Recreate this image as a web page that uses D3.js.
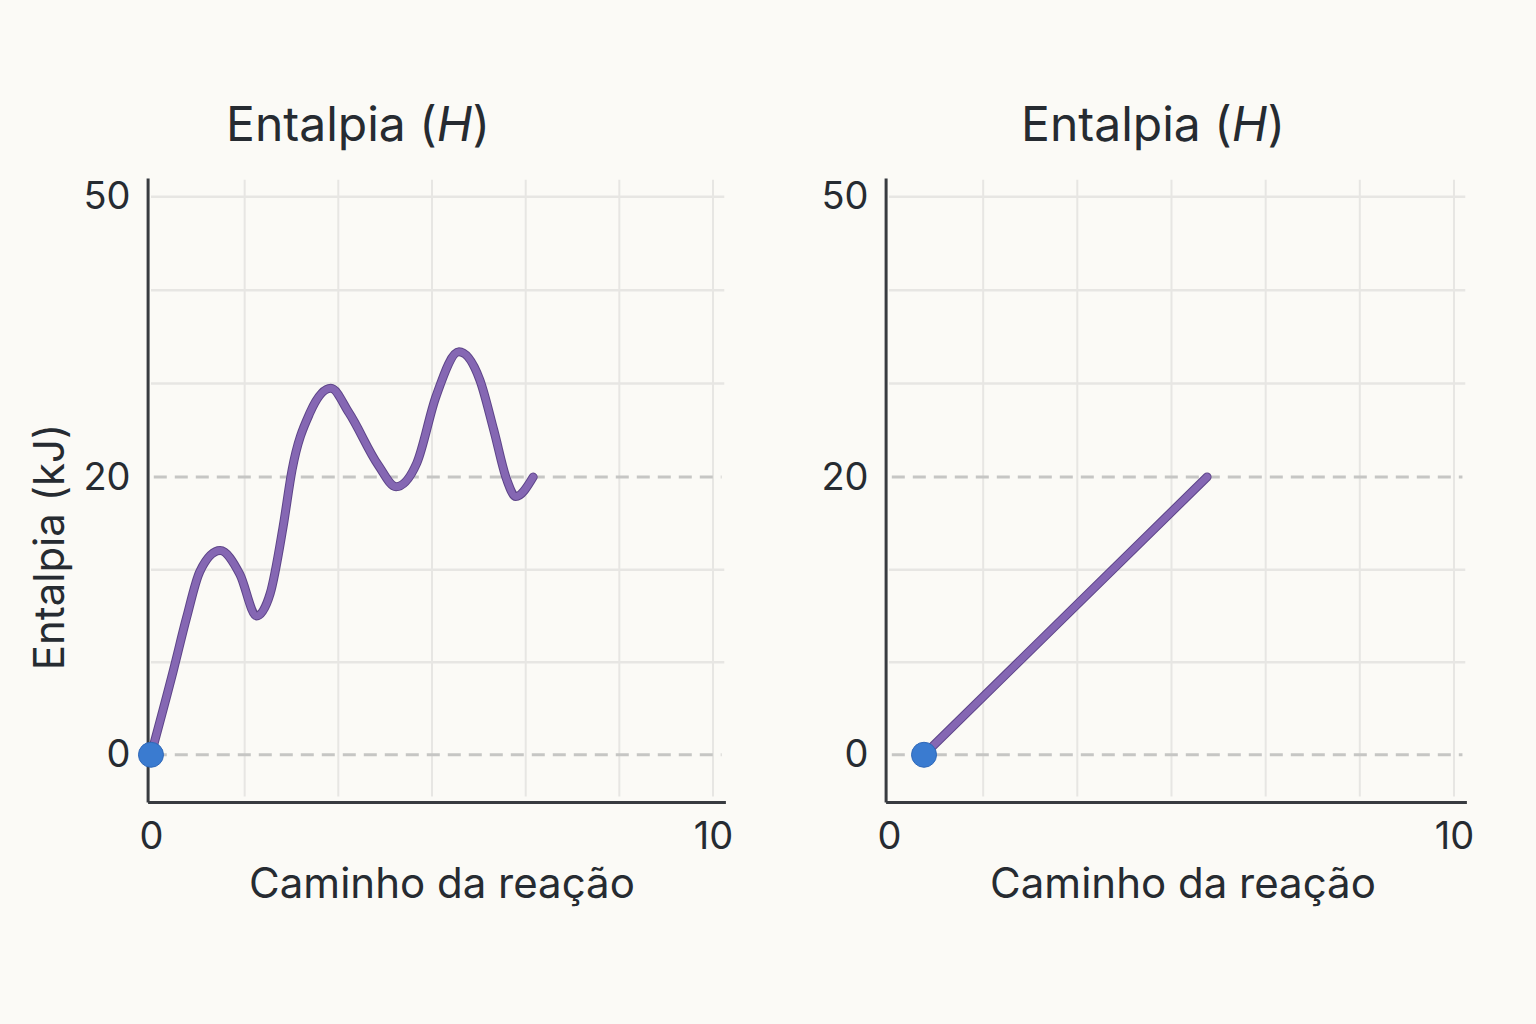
<!DOCTYPE html>
<html>
<head>
<meta charset="utf-8">
<script src="https://cdn.jsdelivr.net/npm/d3@7"></script>
<style>
  html, body { margin: 0; padding: 0; background: #fbfaf6; }
  svg { display: block; font-family: Inter, "Noto Sans", sans-serif; }
</style>
</head>
<body>
<svg id="chart" width="1536" height="1024"></svg>
<script>
// Reaction path (x) and enthalpy in kJ (y).
const curvePathX = [0, 0.40, 0.635, 0.87, 1.23, 1.58, 1.88, 2.12, 2.35, 2.51, 2.83,
  3.20, 3.52, 4.04, 4.36, 4.73, 5.07, 5.48, 5.85, 6.10, 6.33, 6.49, 6.80];
const curveEnthalpy = [0, 6.1, 9.9, 13.2, 14.7, 13.0, 10.0, 11.6, 16.4, 20.75, 26.9,
  29.5, 26.9, 21.3, 19.3, 21.5, 28.6, 33.4, 30.4, 25.0, 19.8, 18.6, 20];

const linePathX = [0.62, 5.63];
const lineEnthalpy = [0, 20];

const xTickValues = [0, 10];
const yTickValues = [0, 20, 50];
const xGridValues = [1.667, 3.333, 5, 6.667, 8.333, 10];
const yGridValues = [6.67, 13.33, 30, 40, 50];
const yDashedValues = [0, 20];

const panelTitle = 'Entalpia';
const xLabel = 'Caminho da reação';
const yLabel = 'Entalpia (kJ)';

const svg = d3.select('#chart');
const textColor = '#262b31';

// The value axis is stretched differently above and below 20 kJ, so the scale
// is piecewise linear.
const y = d3.scaleLinear().domain([-3.4, 20, 52]).range([802, 477, 178]);

function drawPanel(opts) {
  const {left, right, titleX, xLabelX, showYLabel, pathX, pathY} = opts;
  const x = d3.scaleLinear().domain([-0.06, 10.22]).range([left, right]);
  const g = svg.append('g');

  // vertical grid
  g.append('g')
    .selectAll('line')
    .data(xGridValues)
    .join('line')
    .attr('x1', (d) => x(d)).attr('x2', (d) => x(d))
    .attr('y1', y(51.8)).attr('y2', y(-3))
    .attr('stroke', '#e7e6e3')
    .attr('stroke-width', 2);

  // horizontal grid
  g.append('g')
    .selectAll('line')
    .data(yGridValues)
    .join('line')
    .attr('x1', x(0)).attr('x2', x(10.2))
    .attr('y1', (d) => y(d)).attr('y2', (d) => y(d))
    .attr('stroke', '#e7e6e3')
    .attr('stroke-width', 2.5);

  // dashed reference lines at 0 and 20 kJ
  g.append('g')
    .selectAll('line')
    .data(yDashedValues)
    .join('line')
    .attr('x1', x(0.05)).attr('x2', x(10.15))
    .attr('y1', (d) => y(d)).attr('y2', (d) => y(d))
    .attr('stroke', '#c6c6c4')
    .attr('stroke-width', 3)
    .attr('stroke-dasharray', '13 8');

  // axes
  const yAxis = g.append('g')
    .attr('transform', `translate(${left},0)`)
    .call(d3.axisLeft(y).tickValues(yTickValues).tickSize(0).tickPadding(17));
  const xAxis = g.append('g')
    .attr('transform', `translate(0,${y.range()[0]})`)
    .call(d3.axisBottom(x).tickValues(xTickValues).tickSize(0).tickPadding(20));

  for (const ax of [yAxis, xAxis]) {
    ax.select('.domain').attr('stroke', '#383b40').attr('stroke-width', 3);
    ax.selectAll('text')
      .attr('fill', textColor)
      .style('font-size', '38px')
      .style('font-family', 'Inter, "Noto Sans", sans-serif');
  }

  // the enthalpy path
  const points = pathX.map((d, i) => [d, pathY[i]]);
  const line = d3.line()
    .x((d) => x(d[0]))
    .y((d) => y(d[1]))
    .curve(d3.curveMonotoneX);
  g.append('path')
    .datum(points)
    .attr('fill', 'none')
    .attr('stroke', '#5d4488')
    .attr('stroke-width', 9)
    .attr('stroke-linecap', 'round')
    .attr('stroke-linejoin', 'round')
    .attr('d', line);
  g.append('path')
    .datum(points)
    .attr('fill', 'none')
    .attr('stroke', '#8567b3')
    .attr('stroke-width', 7)
    .attr('stroke-linecap', 'round')
    .attr('stroke-linejoin', 'round')
    .attr('d', line);

  // starting point
  g.append('circle')
    .attr('cx', x(pathX[0]))
    .attr('cy', y(pathY[0]))
    .attr('r', 12.5)
    .attr('fill', '#3a7bd0')
    .attr('stroke', '#2f68b8')
    .attr('stroke-width', 1);

  // panel title with italic H
  const title = g.append('text')
    .attr('x', titleX)
    .attr('y', 141)
    .attr('text-anchor', 'middle')
    .attr('fill', textColor)
    .style('font-size', '48px');
  title.append('tspan').text(panelTitle + ' (');
  title.append('tspan').style('font-style', 'italic').text('H');
  title.append('tspan').text(')');

  g.append('text')
    .attr('x', xLabelX)
    .attr('y', 898)
    .attr('text-anchor', 'middle')
    .attr('fill', textColor)
    .style('font-size', '42px')
    .text(xLabel);

  if (showYLabel) {
    g.append('text')
      .attr('transform', 'translate(64,547) rotate(-90)')
      .attr('text-anchor', 'middle')
      .attr('fill', textColor)
      .style('font-size', '42px')
      .text(yLabel);
  }
}

drawPanel({
  left: 147.6, right: 725.4, titleX: 358, xLabelX: 442, showYLabel: true,
  pathX: curvePathX, pathY: curveEnthalpy,
});
drawPanel({
  left: 885.6, right: 1466.4, titleX: 1153, xLabelX: 1183, showYLabel: false,
  pathX: linePathX, pathY: lineEnthalpy,
});
</script>
</body>
</html>
